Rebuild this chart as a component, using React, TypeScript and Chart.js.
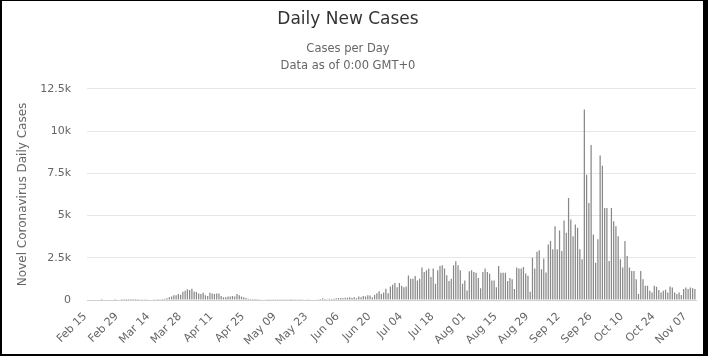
import React, { useEffect, useRef } from "react";
import { Chart, registerables } from "chart.js";

Chart.register(...registerables);

// ---------- data ----------
const titleText = "Daily New Cases";
const subtitleLines = ["Cases per Day", "Data as of 0:00 GMT+0"];
const yAxisTitle = "Novel Coronavirus Daily Cases";

const febCases = [0, 0, 0, 0, 0, 0, 1, 0, 0, 0, 0, 0, 1, 0, 0];
const marCases = [2, 3, 2, 5, 4, 3, 4, 6, 10, 9, 16, 20, 25, 30, 44, 50, 55, 40, 60, 80, 100, 160, 200, 275, 275, 350, 315, 490, 550, 630, 590];
const aprCases = [670, 510, 470, 390, 350, 430, 275, 235, 430, 390, 350, 390, 390, 235, 160, 160, 200, 200, 235, 200, 350, 275, 200, 160, 120, 80, 60, 60, 60, 60];
const mayCases = [40, 30, 25, 20, 15, 20, 10, 15, 20, 15, 10, 20, 15, 10, 5, 15, 20, 10, 15, 20, 25, 15, 20, 30, 25, 35, 45, 60, 100, 60, 40];
const junCases = [80, 60, 80, 100, 120, 120, 100, 140, 140, 160, 120, 160, 100, 200, 160, 240, 200, 280, 260, 160, 300, 400, 520, 360, 440, 660, 400, 800, 900, 1000];
const julCases = [760, 1000, 840, 760, 800, 1450, 1260, 1260, 1420, 1160, 1260, 1920, 1660, 1760, 1860, 1360, 1860, 960, 1760, 2020, 2060, 1860, 1460, 1120, 1260, 2060, 2300, 2060, 1760, 960, 1160];
const augCases = [560, 1700, 1760, 1660, 1620, 1300, 700, 1660, 1860, 1660, 1560, 1160, 1160, 760, 2020, 1620, 1620, 1620, 1120, 1300, 1230, 650, 1920, 1860, 1860, 1960, 1570, 1430, 490, 2500, 1860];
const sepCases = [2860, 2940, 1820, 2450, 1630, 3290, 3490, 3000, 4370, 3000, 4120, 2900, 4700, 3980, 6040, 4760, 3780, 4470, 4270, 3000, 2410, 11270, 7410, 5740, 9170, 3880, 2210, 3590, 8550, 7940];
const octCases = [5450, 5450, 2310, 5450, 4660, 4370, 3780, 2410, 1920, 3490, 2610, 1920, 1720, 1720, 1230, 350, 1720, 1230, 840, 840, 550, 450, 840, 780, 590, 450, 550, 610, 450, 800, 745];
const novCases = [450, 350, 450, 300, 650, 745, 650, 745, 690, 650];

const dailyCases = [
  ...febCases, ...marCases, ...aprCases, ...mayCases, ...junCases,
  ...julCases, ...augCases, ...sepCases, ...octCases, ...novCases,
];

const monthNames = ["Jan", "Feb", "Mar", "Apr", "May", "Jun", "Jul", "Aug", "Sep", "Oct", "Nov", "Dec"];
const startDate = { year: 2020, month: 1, day: 15 };

function buildCategories(count: number): string[] {
  const out: string[] = [];
  const d = new Date(Date.UTC(startDate.year, startDate.month, startDate.day));
  for (let i = 0; i < count; i++) {
    const dd = String(d.getUTCDate()).padStart(2, "0");
    out.push(`${monthNames[d.getUTCMonth()]} ${dd}`);
    d.setUTCDate(d.getUTCDate() + 1);
  }
  return out;
}
const categories = buildCategories(dailyCases.length);

const xTickLabels = [
  "Feb 15", "Feb 29", "Mar 14", "Mar 28", "Apr 11", "Apr 25", "May 09", "May 23",
  "Jun 06", "Jun 20", "Jul 04", "Jul 18", "Aug 01", "Aug 15", "Aug 29", "Sep 12",
  "Sep 26", "Oct 10", "Oct 24", "Nov 07",
];
const yTickValues = [0, 2500, 5000, 7500, 10000, 12500];
const yTickLabels = ["0", "2.5k", "5k", "7.5k", "10k", "12.5k"];

const FONT = '"DejaVu Sans", "Open Sans", sans-serif';

export default function App() {
  const canvasRef = useRef<HTMLCanvasElement | null>(null);

  useEffect(() => {
    document.body.style.margin = "0";
    const canvas = canvasRef.current;
    if (!canvas) return;
    const chart = new Chart(canvas, {
      type: "bar",
      data: {
        labels: categories,
        datasets: [
          {
            label: "Daily Cases",
            data: dailyCases,
            backgroundColor: "#888888",
            borderWidth: 0,
            barPercentage: 0.55,
            categoryPercentage: 1.0,
          },
        ],
      },
      options: {
        responsive: false,
        animation: false,
        devicePixelRatio: 1,
        layout: { padding: { left: 0, right: 12, top: 0, bottom: 0 } },
        plugins: {
          legend: { display: false },
          tooltip: { enabled: false },
          title: {
            display: true,
            text: titleText,
            color: "#333333",
            font: { family: FONT, size: 17, weight: "normal", lineHeight: 1.2 },
            padding: { top: 9, bottom: 11 },
          },
          subtitle: {
            display: true,
            text: subtitleLines,
            color: "#666666",
            font: { family: FONT, size: 11.5, weight: "normal", lineHeight: 1.48 },
            padding: { top: 0, bottom: 14.4 },
          },
        },
        scales: {
          x: {
            grid: { display: false, drawTicks: false },
            border: { display: true, color: "#d0d0d0" },
            ticks: {
              autoSkip: false,
              minRotation: 45,
              maxRotation: 45,
              padding: 10,
              labelOffset: -3,
              color: "#666666",
              font: { family: FONT, size: 11 },
              callback: (_v: any, i: number) =>
                xTickLabels.includes(categories[i]) ? categories[i] : "",
            },
            afterFit: (s: any) => {
              s.height = 56;
              s.paddingLeft = 0;
              s.paddingRight = 0;
            },
          },
          y: {
            min: 0,
            max: 12500,
            afterBuildTicks: (s: any) => {
              s.ticks = yTickValues.map((v) => ({ value: v }));
            },
            grid: { color: "#e6e6e6", drawTicks: false },
            border: { display: false },
            ticks: {
              padding: 16,
              color: "#666666",
              font: { family: FONT, size: 11 },
              callback: (_v: any, i: number) => yTickLabels[i],
            },
            title: {
              display: true,
              text: yAxisTitle,
              color: "#666666",
              font: { family: FONT, size: 12 },
              padding: { top: 16, bottom: 0 },
            },
            afterFit: (s: any) => {
              s.width = 87;
            },
          },
        },
      },
    });
    return () => chart.destroy();
  }, []);

  return (
    <div style={{ position: "relative", width: 708, height: 356, background: "#fff" }}>
      <canvas ref={canvasRef} width={708} height={356} style={{ display: "block" }} />
      <div
        style={{
          position: "absolute",
          left: 0,
          top: 0,
          width: 708,
          height: 356,
          boxSizing: "border-box",
          borderLeft: "2px solid #000",
          borderTop: "1px solid #000",
          borderRight: "5px solid #000",
          borderBottom: "2px solid #000",
          pointerEvents: "none",
        }}
      />
    </div>
  );
}
